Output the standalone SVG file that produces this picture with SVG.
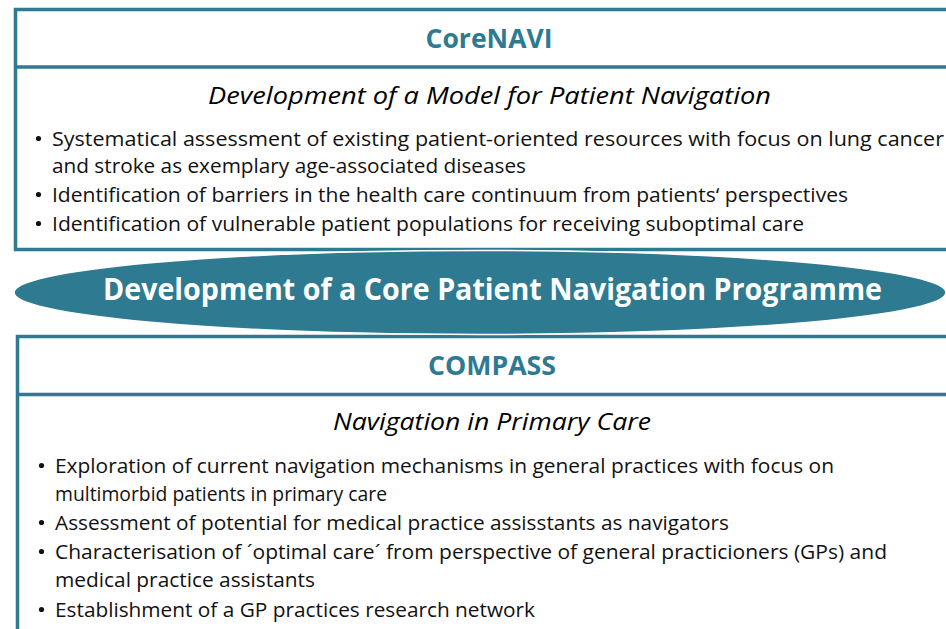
<svg xmlns="http://www.w3.org/2000/svg" width="946" height="629" viewBox="0 0 946 629">
<style>
.box{fill:#fff;stroke:#2E7A91;stroke-width:3.5}
.sep{stroke:#2E7A91;stroke-width:3.5}
.hd{font-family:"Open Sans","Liberation Sans",sans-serif;font-weight:bold;font-size:26px;fill:#2E7A91;text-anchor:middle}
.sub{font-family:"Open Sans","Liberation Sans",sans-serif;font-style:italic;font-size:23px;fill:#000}
.tx{font-family:"Open Sans","Liberation Sans",sans-serif;font-size:20.5px;fill:#111}
.bl{fill:#111}
.el{fill:#2E7A91;stroke:#fff;stroke-width:1.5}
.et{font-family:"Open Sans","Liberation Sans",sans-serif;font-weight:bold;font-size:29.5px;fill:#fff}
</style>
<rect width="946" height="629" fill="#fff"/>
<g id="corenavi">
<rect class="box" x="15.5" y="9.5" width="960" height="240"/>
<line class="sep" x1="15.5" y1="67" x2="960" y2="67"/>
<text class="hd" x="489" y="48" textLength="127" lengthAdjust="spacingAndGlyphs">CoreNAVI</text>
<text class="sub" x="208" y="104" textLength="563" lengthAdjust="spacingAndGlyphs">Development of a Model for Patient Navigation</text>
<circle class="bl" cx="38.5" cy="138.5" r="2.6"/>
<text class="tx" x="52" y="146" textLength="892" lengthAdjust="spacingAndGlyphs">Systematical assessment of existing patient-oriented resources with focus on lung cancer</text>
<text class="tx" x="52" y="173" textLength="474" lengthAdjust="spacingAndGlyphs">and stroke as exemplary age-associated diseases</text>
<circle class="bl" cx="38.5" cy="194.5" r="2.6"/>
<text class="tx" x="52" y="202" textLength="796" lengthAdjust="spacingAndGlyphs">Identification of barriers in the health care continuum from patients‘ perspectives</text>
<circle class="bl" cx="38.5" cy="223.5" r="2.6"/>
<text class="tx" x="52" y="231" textLength="752" lengthAdjust="spacingAndGlyphs">Identification of vulnerable patient populations for receiving suboptimal care</text>
</g>
<g id="compass">
<rect class="box" x="17.5" y="336.5" width="960" height="400"/>
<line class="sep" x1="17.5" y1="394.5" x2="960" y2="394.5"/>
<text class="hd" x="492" y="375" textLength="128" lengthAdjust="spacingAndGlyphs">COMPASS</text>
<text class="sub" x="333" y="430" textLength="318" lengthAdjust="spacingAndGlyphs">Navigation in Primary Care</text>
<circle class="bl" cx="41.5" cy="465.5" r="2.6"/>
<text class="tx" x="55" y="473" textLength="779" lengthAdjust="spacingAndGlyphs">Exploration of current navigation mechanisms in general practices with focus on</text>
<text class="tx" x="55" y="501" textLength="332" lengthAdjust="spacingAndGlyphs">multimorbid patients in primary care</text>
<circle class="bl" cx="41.5" cy="522.5" r="2.6"/>
<text class="tx" x="55" y="530" textLength="674" lengthAdjust="spacingAndGlyphs">Assessment of potential for medical practice assisstants as navigators</text>
<circle class="bl" cx="41.5" cy="551.5" r="2.6"/>
<text class="tx" x="55" y="559" textLength="832" lengthAdjust="spacingAndGlyphs">Characterisation of ´optimal care´ from perspective of general practicioners (GPs) and</text>
<text class="tx" x="55" y="587" textLength="260" lengthAdjust="spacingAndGlyphs">medical practice assistants</text>
<circle class="bl" cx="41.5" cy="609.5" r="2.6"/>
<text class="tx" x="55" y="617" textLength="480" lengthAdjust="spacingAndGlyphs">Establishment of a GP practices research network</text>
</g>
<g id="programme">
<ellipse class="el" cx="480" cy="292.5" rx="466" ry="42"/>
<text class="et" x="103" y="300" textLength="779" lengthAdjust="spacingAndGlyphs">Development of a Core Patient Navigation Programme</text>
</g>
<g id="connectors"/>
</svg>
